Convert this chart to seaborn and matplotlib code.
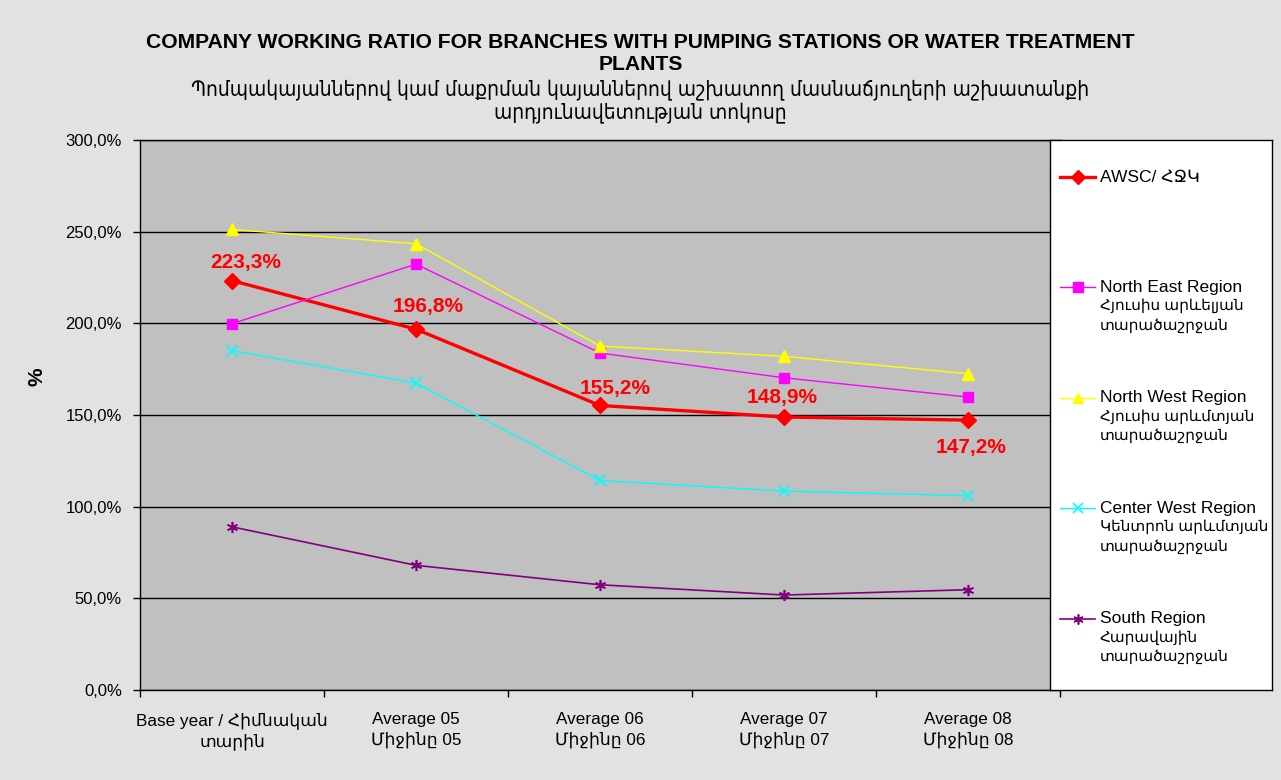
import matplotlib
matplotlib.use("Agg")
import matplotlib.pyplot as plt
import seaborn as sns
from matplotlib.lines import Line2D

# --- datos ---
categorias = ["Base year / Հիմնական\nտարին", "Average 05\nՄիջինը 05", "Average 06\nՄիջինը 06",
              "Average 07\nՄիջինը 07", "Average 08\nՄիջինը 08"]
awsc = [223.3, 196.8, 155.2, 148.9, 147.2]
north_east = [199.8, 232.3, 183.8, 170.3, 159.8]
north_west = [251.2, 243.4, 187.6, 182.0, 172.5]
center_west = [185.1, 167.4, 114.3, 108.5, 106.0]
south = [89.0, 68.0, 57.4, 51.8, 54.7]
series_en = ["AWSC/ ՀՋԿ", "North East Region", "North West Region", "Center West Region", "South Region"]
series_hy = ["", "Հյուսիս արևելյան\nտարածաշրջան", "Հյուսիս արևմտյան\nտարածաշրջան",
             "Կենտրոն արևմտյան\nտարածաշրջան", "Հարավային\nտարածաշրջան"]
y_ticks = [0, 50, 100, 150, 200, 250, 300]

fuente = ["Liberation Sans", "DejaVu Sans"]
plt.rcParams["font.family"] = fuente

estilos = [
    dict(color="#FF0000", marker="D", markersize=8, linewidth=2.4),
    dict(color="#FF00FF", marker="s", markersize=7.5, linewidth=1.0),
    dict(color="#FFFF00", marker="^", markersize=8, linewidth=1.0),
    dict(color="#00FFFF", marker="x", markersize=8, linewidth=1.0, markeredgewidth=1.2),
    dict(color="#800080", marker=(6, 2, 0), markersize=8, linewidth=1.2, markeredgewidth=1.2),
]
valores = [awsc, north_east, north_west, center_west, south]

fig = plt.figure(figsize=(12.81, 7.8), dpi=100)
fig.patch.set_facecolor("#E2E2E2")
W, H = 1281, 780
ax = fig.add_axes([140 / W, 1 - 690 / H, 920 / W, 550 / H])
ax.set_facecolor("#C0C0C0")

x = list(range(len(categorias)))
for vals, est in zip(valores, estilos):
    sns.lineplot(x=x, y=vals, ax=ax, color=est["color"], linewidth=est["linewidth"],
                 marker=est["marker"], markersize=est["markersize"],
                 markeredgecolor=est["color"], markerfacecolor=est["color"],
                 markeredgewidth=est.get("markeredgewidth", 1.0), zorder=3)

# etiquetas de datos AWSC
desplaz = [(10, 13), (9, 16), (11, 12), (-1, 14), (2, -20)]
for xi, v, (dx, dy) in zip(x, awsc, desplaz):
    ax.annotate(f"{v:.1f}%".replace(".", ","), (xi, v), xytext=(dx, dy),
                textcoords="offset points", ha="center", va="center",
                color="#FF0000", fontsize=15, fontweight="bold", zorder=4)

ax.set_xlim(-0.5, 4.5)
ax.set_ylim(0, 300)
ax.set_yticks(y_ticks)
ax.set_yticklabels([f"{t:.1f}%".replace(".", ",") for t in y_ticks], fontsize=12)
ax.yaxis.grid(True, color="black", linewidth=1.0)
ax.set_axisbelow(True)
ax.set_xticks(x)
ax.set_xticklabels(categorias, fontsize=12.3, linespacing=1.3)
ax.set_xticks([i - 0.5 for i in range(len(categorias) + 1)], minor=True)
ax.tick_params(axis="x", which="major", length=0, pad=16)
ax.tick_params(axis="x", which="minor", length=5, width=1, direction="out")
ax.tick_params(axis="y", length=5, width=1, direction="out", pad=8)
for s in ax.spines.values():
    s.set_color("black")
    s.set_linewidth(1.0)
ax.set_xlabel("")
ax.set_ylabel("%", fontsize=15, fontweight="bold")
ax.yaxis.set_label_coords(-0.102, 0.57)

# caja de leyenda
lax = fig.add_axes([1050 / W, 1 - 690 / H, 222 / W, 550 / H])
lax.set_facecolor("white")
lax.set_xlim(0, 222)
lax.set_ylim(550, 0)
lax.set_xticks([])
lax.set_yticks([])
for s in lax.spines.values():
    s.set_color("black")
    s.set_linewidth(1.0)
filas = [37, 147.5, 258, 368.5, 479]
for en, hy, est, fy in zip(series_en, series_hy, estilos, filas):
    lax.add_line(Line2D([10, 45], [fy, fy], color=est["color"], linewidth=est["linewidth"]))
    lax.add_line(Line2D([27.5], [fy], color=est["color"], marker=est["marker"],
                        markersize=est["markersize"] * 0.9, markerfacecolor=est["color"],
                        markeredgecolor=est["color"],
                        markeredgewidth=est.get("markeredgewidth", 1.0)))
    lax.text(50, fy, en, fontsize=12.5, va="center", ha="left")
    if hy:
        lax.text(50, fy + 11, hy, fontsize=11, va="top", ha="left", linespacing=1.45)

# titulos
fig.text(0.5, 1 - 43 / H, "COMPANY WORKING RATIO FOR BRANCHES WITH PUMPING STATIONS OR WATER TREATMENT",
         ha="center", va="center", fontsize=15.2, fontweight="bold")
fig.text(0.5, 1 - 65 / H, "PLANTS", ha="center", va="center", fontsize=15.2, fontweight="bold")
fig.text(0.5, 1 - 90 / H, "Պոմպակայաններով կամ մաքրման կայաններով աշխատող մասնաճյուղերի աշխատանքի",
         ha="center", va="center", fontsize=15, family=["DejaVu Sans"], fontstretch="condensed")
fig.text(0.5, 1 - 113 / H, "արդյունավետության տոկոսը", ha="center", va="center",
         fontsize=15, family=["DejaVu Sans"], fontstretch="condensed")

fig.savefig("out.png", dpi=100, facecolor=fig.get_facecolor())
